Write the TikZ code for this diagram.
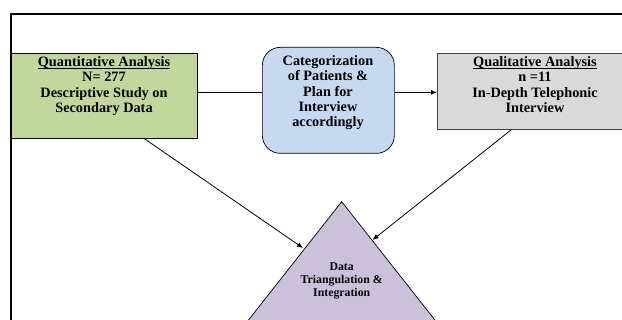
\documentclass[tikz,border=0pt]{standalone}
\usepackage{fontspec}
\setmainfont{Liberation Serif}
\usepackage{tikz}
\usetikzlibrary{arrows.meta}

\definecolor{quantgreen}{HTML}{C3D69B}
\definecolor{planblue}{HTML}{C6D9F1}
\definecolor{qualgrey}{HTML}{D9D9D9}
\definecolor{trililac}{HTML}{CCC1DA}
\newcommand{\boxfont}{\fontsize{14.3}{15.4}\selectfont\bfseries}
\newcommand{\trifont}{\fontsize{11.8}{13}\selectfont\bfseries}
\newsavebox{\ulbox}
\newcommand{\uln}[1]{\sbox{\ulbox}{#1}\usebox{\ulbox}\llap{\rule[-2.4pt]{\wd\ulbox}{0.8pt}}}

\begin{document}
\begin{tikzpicture}[x=1pt,y=-1pt]
	\tikzstyle{box}=[rectangle,draw,line width=0.7pt,anchor=north west,inner sep=0pt]
	\tikzstyle{txt}=[anchor=north,align=center,inner sep=0pt,font=\boxfont]
	\tikzstyle{tritxt}=[anchor=north,align=center,inner sep=0pt,font=\trifont]
	\tikzstyle{frame}=[line width=1.3pt]
	\tikzstyle{link}=[line width=0.8pt]
	\tikzstyle{arrow}=[line width=0.8pt,-{Latex[length=6pt,width=5pt]}]
	\useasboundingbox (0,0) rectangle (622,320);
	\clip (0,0) rectangle (622,320);
	\draw [frame] (11,14) rectangle (700,400);
	% the three boxes
	\node (quant) at (11,53) [box,fill=quantgreen,minimum width=186pt,minimum height=85pt] {};
	\node (plan) at (262,47) [box,fill=planblue,rounded corners=18pt,minimum width=132pt,minimum height=106pt] {};
	\node (qual) at (437,53) [box,fill=qualgrey,draw=black!75,minimum width=196pt,minimum height=76pt] {};
	\node (quanttext) at (104,56.3) [txt] {\uln{Quantitative Analysis}\\N= 277\\Descriptive Study on\\Secondary Data};
	\node (plantext) at (328,55.2) [txt] {Categorization\\of Patients \&\\Plan for\\Interview\\accordingly};
	\node (qualtext) at (535,56.3) [txt] {\uln{Qualitative Analysis}\\n =11\\In-Depth Telephonic\\Interview};
	% triangle at the bottom
	\coordinate (apex) at (341.7,201.7);
	\coordinate (triL) at (303,248);
	\coordinate (triR) at (372.5,240);
	\draw [line width=0.7pt,fill=trililac] (apex) -- (466.4,360) -- (217,360) -- cycle;
	\node (tritext) at (341.7,262.2) [tritxt] {Data\\Triangulation \&\\Integration};
	% connectors
	\draw [link] ([yshift=3.5pt]quant.east) -- ([yshift=8pt]plan.west);
	\draw [arrow] ([yshift=8pt]plan.east) -- ([yshift=-1pt]qual.west);
	\draw [arrow] ([xshift=40pt]quant.south) -- (triL);
	\draw [arrow] ([xshift=-24pt]qual.south) -- (triR);
\end{tikzpicture}
\end{document}
